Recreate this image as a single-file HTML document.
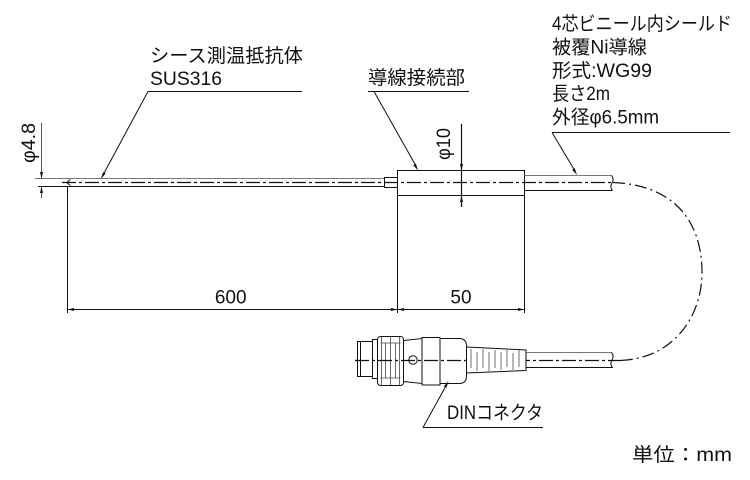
<!DOCTYPE html>
<html><head><meta charset="utf-8"><style>
html,body{margin:0;padding:0;background:#fff;}
svg{display:block;}
text{font-family:"Liberation Sans","Noto Sans CJK JP",sans-serif;font-size:19px;fill:#111;}
</style></head><body>
<svg width="750" height="480" viewBox="0 0 750 480" xmlns="http://www.w3.org/2000/svg">
<g stroke="#111" stroke-width="1" fill="none">
  <!-- sheath -->
  <line x1="35" y1="178.5" x2="384" y2="178.5" stroke="#777"/>
  <line x1="38" y1="186.5" x2="384" y2="186.5"/>
  <polyline points="70.5,179.5 66.5,182.5 70.5,185.5"/>
  <!-- sleeve -->
  <rect x="384.5" y="177.5" width="13" height="10"/>
  <!-- connection box -->
  <rect x="397.5" y="170.5" width="127" height="25"/>
  <!-- upper cable -->
  <line x1="524.5" y1="175.5" x2="612" y2="175.5" stroke="#777"/>
  <line x1="524.5" y1="190.5" x2="612.5" y2="190.5"/>
  <path d="M611.5,175.5 Q614.5,179 612,183 Q609.5,187 612.5,190.5"/>
  <!-- center lines -->
  <line x1="62" y1="182.5" x2="613" y2="182.5" stroke-dasharray="14 3 3 3" stroke-width="1.3"/>
  <path d="M613,182.5 C690,186 702,240 702,272 C702,320 670,360 618,360.5" stroke-dasharray="12 4 2 4" stroke-width="1.2"/>
  <!-- extension lines -->
  <line x1="67.5" y1="186" x2="67.5" y2="313"/>
  <line x1="397.5" y1="196" x2="397.5" y2="313"/>
  <line x1="524.5" y1="196" x2="524.5" y2="313"/>
  <!-- dimension line -->
  <line x1="67.5" y1="309.5" x2="524.5" y2="309.5"/>
  <!-- phi10 -->
  <line x1="461.5" y1="124" x2="461.5" y2="207" stroke-width="1.2"/>
  <!-- phi4.8 -->
  <line x1="41.5" y1="123" x2="41.5" y2="178" stroke="#555"/>
  <line x1="41.5" y1="187" x2="41.5" y2="198" stroke="#555"/>
  <!-- label underlines -->
  <line x1="148" y1="91.5" x2="302" y2="91.5"/>
  <line x1="368" y1="91.5" x2="469" y2="91.5"/>
  <line x1="552" y1="132.5" x2="730" y2="132.5"/>
  <line x1="423" y1="427.5" x2="543" y2="427.5"/>
  <!-- leaders -->
  <line x1="148" y1="91.5" x2="103" y2="175"/>
  <line x1="374" y1="91.5" x2="416" y2="166"/>
  <line x1="552" y1="132.5" x2="575" y2="171"/>
  <line x1="423" y1="427.5" x2="447" y2="384"/>
  <!-- lower cable -->
  <line x1="526" y1="352.5" x2="612" y2="352.5" stroke="#777"/>
  <line x1="526" y1="367.5" x2="613" y2="367.5"/>
  <path d="M611.5,352.5 Q614.5,356 612,360 Q609.5,364 612.5,367.5"/>
  <line x1="355" y1="360.5" x2="622" y2="360.5" stroke-dasharray="14 3 3 3" stroke-width="1.2"/>
  <!-- connector -->
  <rect x="357.5" y="341.5" width="15" height="35" fill="#fff"/>
  <line x1="360.5" y1="342" x2="360.5" y2="376"/>
  <rect x="372.5" y="339.5" width="5" height="39" fill="#fff"/>
  <rect x="377.5" y="336.5" width="26" height="49" rx="3" fill="#fff"/>
  <g stroke="#444" stroke-width="0.8">
    <line x1="380.5" y1="343" x2="400.5" y2="343"/>
    <line x1="380.5" y1="378" x2="400.5" y2="378"/>
    <line x1="381.5" y1="337" x2="381.5" y2="385"/>
    <line x1="385.5" y1="343" x2="385.5" y2="378"/>
    <line x1="390.5" y1="337" x2="390.5" y2="385"/>
    <line x1="395.5" y1="343" x2="395.5" y2="378"/>
    <line x1="399.5" y1="337" x2="399.5" y2="385"/>
  </g>
  <polygon points="403.5,340.5 422,338.5 422,383.5 403.5,381.5" fill="#fff"/>
  <rect x="422" y="337.5" width="18" height="47.5" fill="#fff"/>
  <path d="M440,338.5 L459,338.5 Q466.5,338.5 466.5,346 L466.5,376 Q466.5,383.5 459,383.5 L440,383.5 Z" fill="#fff"/>
  <circle cx="413" cy="360" r="4.2" fill="#fff"/>
  <path d="M466.5,347 L526,350 L526,370.5 L466.5,373 Z" fill="#fff"/>
  <g stroke="#333" stroke-width="0.7">
    <path d="M471,349 V368 M477,352 V371 M483,349 V368 M489,352 V371 M495,350 V368 M501,352 V370 M507,350 V367 M513,353 V370 M519,350 V367"/>
  </g>
  <line x1="355" y1="360.5" x2="470" y2="360.5" stroke-dasharray="14 3 3 3" stroke-width="1.2"/>
</g>
<!-- arrowheads -->
<g fill="#111" stroke="none">
  <polygon points="67.5,309.5 74,308 74,311"/>
  <polygon points="397.5,309.5 391,308 391,311"/>
  <polygon points="397.5,309.5 404,308 404,311"/>
  <polygon points="524.5,309.5 518,308 518,311"/>
  <polygon points="461.5,170.5 460,164 463,164"/>
  <polygon points="461.5,195.5 460,202 463,202"/>
  <polygon points="41.5,178.5 40,172 43,172"/>
  <polygon points="41.5,186.5 40,193 43,193"/>
  <polygon points="101,179 105.63,173.54 102.99,172.12"/>
  <polygon points="418,170.5 415.9,163.65 413.28,165.11"/>
  <polygon points="577,175 574.74,168.21 572.16,169.73"/>
  <polygon points="448.5,381 446.45,387.86 443.81,386.42"/>
</g>
<!-- text -->
<text x="150" y="62" textLength="153" lengthAdjust="spacingAndGlyphs">シース測温抵抗体</text>
<text x="150" y="85" textLength="72" lengthAdjust="spacingAndGlyphs">SUS316</text>
<text x="368" y="84" textLength="97" lengthAdjust="spacingAndGlyphs">導線接続部</text>
<text x="552" y="30" textLength="180" lengthAdjust="spacingAndGlyphs">4芯ビニール内シールド</text>
<text x="552" y="53.5" textLength="95" lengthAdjust="spacingAndGlyphs">被覆Ni導線</text>
<text x="552" y="77" textLength="100" lengthAdjust="spacingAndGlyphs">形式:WG99</text>
<text x="552" y="100" textLength="58" lengthAdjust="spacingAndGlyphs">長さ2m</text>
<text x="552" y="123.5" textLength="107" lengthAdjust="spacingAndGlyphs">外径φ6.5mm</text>
<text x="230.7" y="303.5" text-anchor="middle">600</text>
<text x="461" y="303.5" text-anchor="middle">50</text>
<text x="447" y="419" textLength="96" lengthAdjust="spacingAndGlyphs">DINコネクタ</text>
<text x="632" y="461" textLength="100" lengthAdjust="spacingAndGlyphs">単位：mm</text>
<text transform="translate(450,160) rotate(-90)" textLength="32" lengthAdjust="spacingAndGlyphs">φ10</text>
<text transform="translate(35,163) rotate(-90)" textLength="40" lengthAdjust="spacingAndGlyphs">φ4.8</text>
</svg>
</body></html>
